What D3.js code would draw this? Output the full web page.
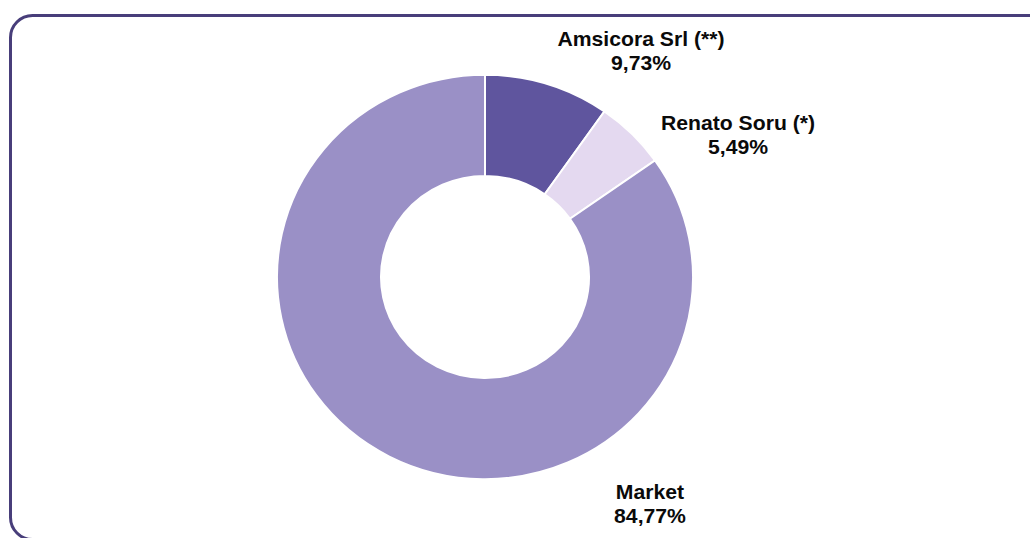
<!DOCTYPE html>
<html>
  <head>
    <meta charset="utf-8">
    <title></title>
    <script src="https://d3js.org/d3.v7.min.js"></script>
  </head>
  <style>
    body {
      margin: 0;
      background: #fff;
    }
  </style>
  <body>
  <svg width="1030" height="538"></svg>
  <script>

  // shareholders, % of capital
  var names = ["Amsicora Srl (**)", "Renato Soru (*)", "Market"];
  var shares = [9.73, 5.49, 84.77];
  var shareLabels = ["9,73%", "5,49%", "84,77%"];
  var colors = ["#5f559e", "#e4d9f0", "#9a90c6"];

  var svg = d3.select("svg");

  // frame round the chart, runs off the right edge, bottom corner just shows
  svg.append("rect")
    .attr("x", 10.5)
    .attr("y", 15.5)
    .attr("width", 1040)
    .attr("height", 524)
    .attr("rx", 22)
    .attr("fill", "none")
    .attr("stroke", "#483e7a")
    .attr("stroke-width", 3);

  // the original picture is a little stretched sideways
  var cx = 485, cy = 277,
      outer = 208, inner = 104, squash = 0.972;

  var g = svg.append("g")
    .attr("transform", "translate(" + cx + "," + cy + ") scale(1," + squash + ")");

  var pie = d3.pie().sort(null).value(function(d) { return d; });
  var arc = d3.arc().innerRadius(inner).outerRadius(outer);

  var arcs = pie(shares);

  g.selectAll("path")
    .data(arcs)
    .enter()
    .append("path")
    .attr("d", arc)
    .attr("fill", function(d, i) { return colors[i]; })
    .attr("stroke", "#fff")
    .attr("stroke-width", 2);

  // label spots (name baseline)
  var labelPos = [[641, 46], [738, 130], [650, 499]];

  var labels = svg.selectAll("text.lbl")
    .data(names)
    .enter()
    .append("text")
    .attr("class", "lbl")
    .attr("text-anchor", "middle")
    .attr("transform", function(d, i) {
      return "translate(" + labelPos[i][0] + "," + labelPos[i][1] + ") scale(1.06,1)";
    })
    .style("font-family", "'Liberation Sans', Arial, sans-serif")
    .style("font-weight", "bold")
    .style("font-size", "20px")
    .attr("fill", "#0a0a0a");

  labels.append("tspan")
    .attr("x", 0)
    .attr("y", 0)
    .text(function(d) { return d; });

  labels.append("tspan")
    .attr("x", 0)
    .attr("y", 24)
    .text(function(d, i) { return shareLabels[i]; });

  </script>
  </body>
</html>
